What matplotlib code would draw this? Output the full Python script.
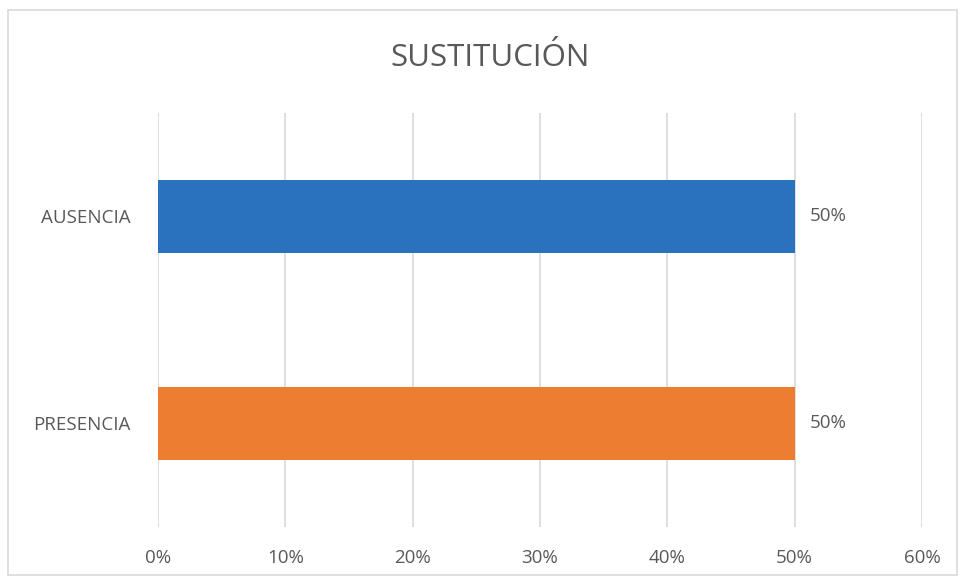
import matplotlib.pyplot as plt
from matplotlib.patches import Rectangle

# data
categories = ["PRESENCIA", "AUSENCIA"]
values = [50, 50]
bar_colors = ["#ED7D31", "#2A72BE"]
xticks = [0, 10, 20, 30, 40, 50, 60]

plt.rcParams['font.family'] = ['Open Sans', 'DejaVu Sans']
text_color = "#595959"

fig = plt.figure(figsize=(9.61, 5.80), dpi=100)
ax = fig.add_axes([0.1644, 0.0914, 0.795, 0.714])

bars = ax.barh(range(len(categories)), values, height=0.35, color=bar_colors, zorder=3)
for b, v in zip(bars, values):
    ax.text(b.get_width() + 1.2, b.get_y() + b.get_height() / 2, f"{v}%",
            va="center", ha="left", fontsize=13.5, color=text_color)

ax.set_xlim(0, 60)
ax.set_ylim(-0.5, 1.5)
ax.set_xticks(xticks)
ax.set_xticklabels([f"{t}%" for t in xticks])
ax.set_yticks(range(len(categories)))
ax.set_yticklabels(categories)
ax.tick_params(axis="both", length=0, labelsize=13.5, labelcolor=text_color)
ax.tick_params(axis="x", pad=16)
ax.tick_params(axis="y", pad=20)
ax.grid(axis="x", color="#D9D9D9", linewidth=1.2, zorder=0)
for s in ax.spines.values():
    s.set_visible(False)

fig.text(0.51, 0.90, "SUSTITUCIÓN", ha="center", va="center", fontsize=22.5, color=text_color)

# light outer border
fig.patches.append(Rectangle((0.008, 0.008), 0.988, 0.975, transform=fig.transFigure,
                             fill=False, edgecolor="#D9D9D9", linewidth=1.2))

fig.savefig("out.png", dpi=100)
